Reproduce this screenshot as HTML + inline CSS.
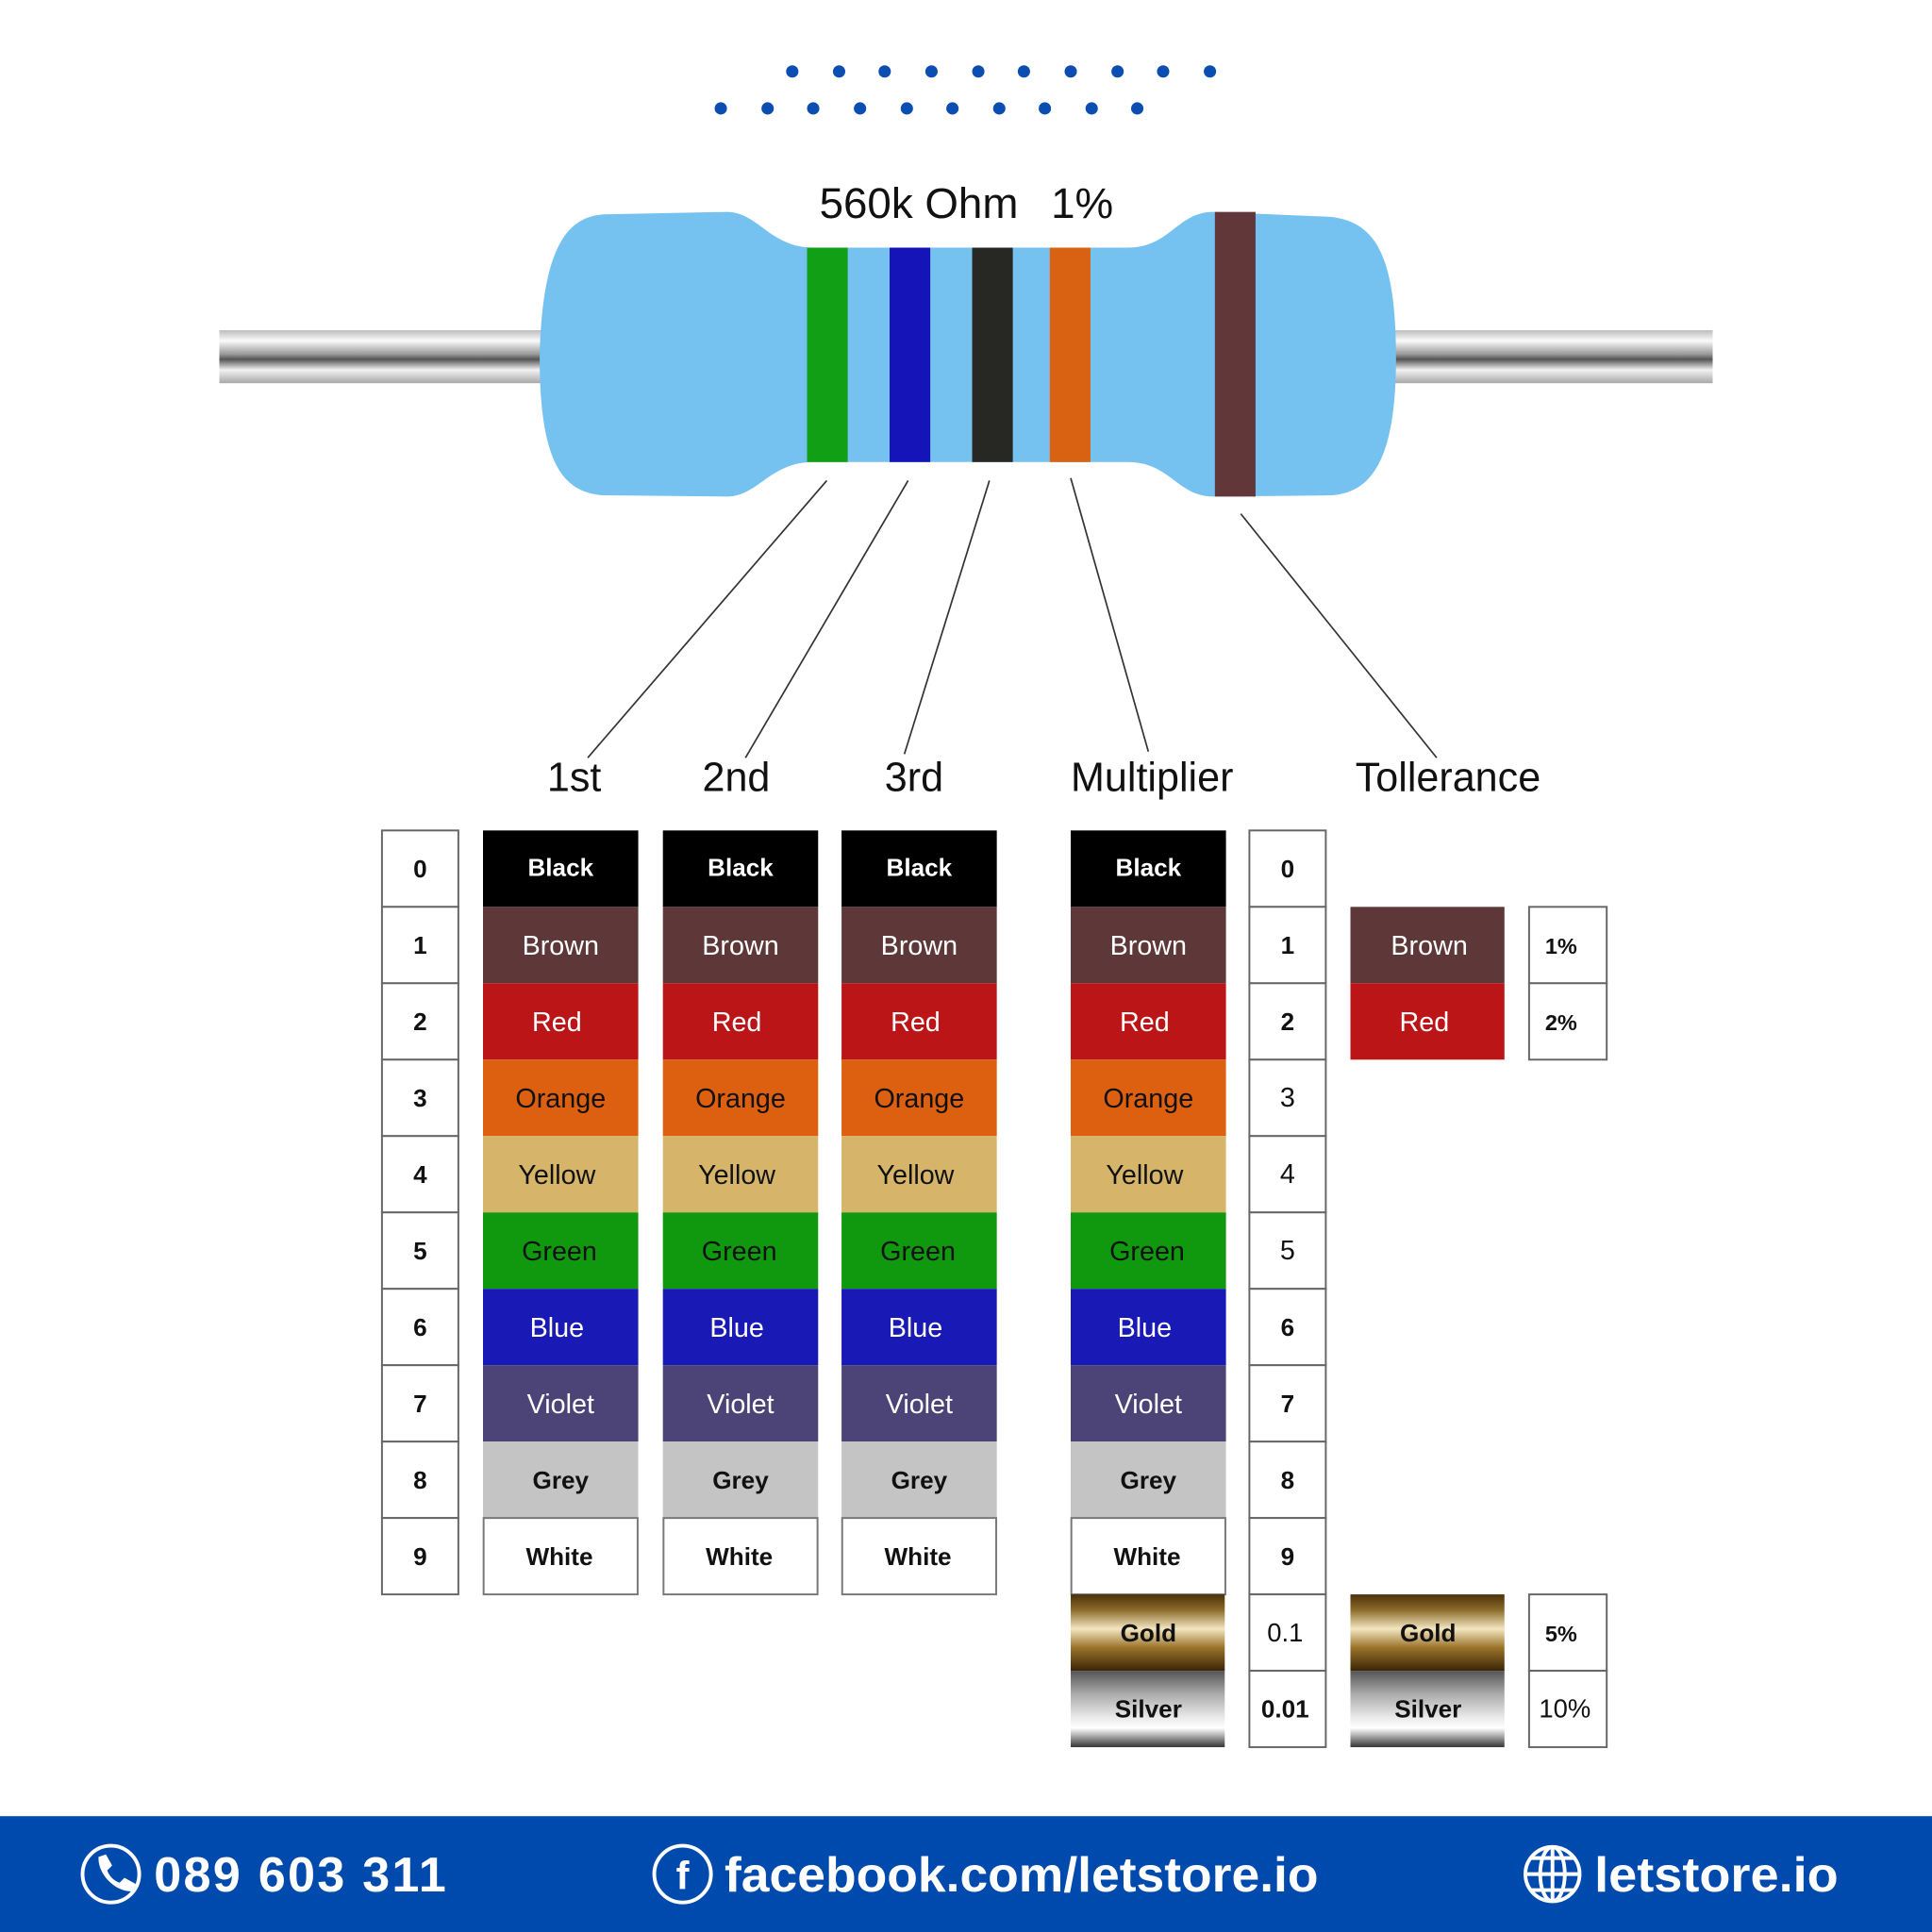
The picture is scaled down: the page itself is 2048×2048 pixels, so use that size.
<!DOCTYPE html>
<html><head><meta charset="utf-8"><style>
html,body{margin:0;padding:0;background:#fff;width:2048px;height:2048px;overflow:hidden}
svg{display:block}
.t{font-family:"Liberation Sans",Arial,sans-serif}
</style></head><body>
<svg width="2048" height="2048" viewBox="0 0 1568 1568" xmlns="http://www.w3.org/2000/svg" class="t">
<defs>
<linearGradient id="lead" x1="0" y1="0" x2="0" y2="1">
<stop offset="0" stop-color="#bdbdbd"/><stop offset="0.2" stop-color="#fafafa"/><stop offset="0.45" stop-color="#9a9a9a"/><stop offset="0.55" stop-color="#555"/><stop offset="0.75" stop-color="#f2f2f2"/><stop offset="1" stop-color="#a8a8a8"/>
</linearGradient>
<linearGradient id="gold" x1="0" y1="0" x2="0" y2="1">
<stop offset="0" stop-color="#4a3208"/><stop offset="0.2" stop-color="#8a6a2a"/><stop offset="0.45" stop-color="#f3e6c0"/><stop offset="0.7" stop-color="#9a7228"/><stop offset="1" stop-color="#3a2606"/>
</linearGradient>
<linearGradient id="silver" x1="0" y1="0" x2="0" y2="1">
<stop offset="0" stop-color="#555"/><stop offset="0.3" stop-color="#aaa"/><stop offset="0.6" stop-color="#e8e8e8"/><stop offset="0.75" stop-color="#fff"/><stop offset="1" stop-color="#333"/>
</linearGradient>
</defs>
<g fill="#0b4db0">
<circle cx="643" cy="58" r="5"/><circle cx="681" cy="58" r="5"/><circle cx="718" cy="58" r="5"/><circle cx="756" cy="58" r="5"/><circle cx="794" cy="58" r="5"/><circle cx="831" cy="58" r="5"/><circle cx="869" cy="58" r="5"/><circle cx="907" cy="58" r="5"/><circle cx="944" cy="58" r="5"/><circle cx="982" cy="58" r="5"/>
<circle cx="585" cy="88" r="5"/><circle cx="623" cy="88" r="5"/><circle cx="660" cy="88" r="5"/><circle cx="698" cy="88" r="5"/><circle cx="736" cy="88" r="5"/><circle cx="773" cy="88" r="5"/><circle cx="811" cy="88" r="5"/><circle cx="848" cy="88" r="5"/><circle cx="886" cy="88" r="5"/><circle cx="923" cy="88" r="5"/>
</g>
<rect x="178" y="268" width="265" height="43" fill="url(#lead)"/>
<rect x="1128" y="268" width="262" height="43" fill="url(#lead)"/>
<path d="M490,174 C458,176 440,205 438,290 C438,378 458,400 490,402 L590,403 C615,403 625,375 660,375 L915,375 C950,375 955,403 985,403 L1080,402 C1115,400 1133,370 1133,290 C1133,205 1115,180 1080,176 L985,172 C955,172 950,201 915,201 L660,201 C625,201 615,172 590,172 Z" fill="#75c1ef"/>
<rect x="655" y="201" width="33" height="174" fill="#109f15"/>
<rect x="722" y="201" width="33" height="174" fill="#1414b8"/>
<rect x="789" y="201" width="33" height="174" fill="#272824"/>
<rect x="852" y="201" width="33" height="174" fill="#d86211"/>
<rect x="986" y="172" width="33" height="231" fill="#613739"/>
<text x="665" y="177" font-size="35" fill="#111">560k Ohm</text>
<text x="853" y="177" font-size="35" fill="#111">1%</text>
<g stroke="#333" stroke-width="1.3">
<line x1="671" y1="390" x2="477" y2="615"/>
<line x1="737" y1="390" x2="605" y2="615"/>
<line x1="803" y1="390" x2="734" y2="612"/>
<line x1="869" y1="388" x2="932" y2="610"/>
<line x1="1007" y1="417" x2="1166" y2="615"/>
</g>
<g font-size="33" fill="#111">
<text x="444" y="642">1st</text><text x="570" y="642">2nd</text><text x="718" y="642">3rd</text><text x="869" y="642">Multiplier</text><text x="1100" y="642">Tollerance</text>
</g>
<g fill="#fff" stroke="#666" stroke-width="1.5">
<rect x="310" y="674" width="62" height="62"/><rect x="310" y="736" width="62" height="62"/><rect x="310" y="798" width="62" height="62"/><rect x="310" y="860" width="62" height="62"/><rect x="310" y="922" width="62" height="62"/><rect x="310" y="984" width="62" height="62"/><rect x="310" y="1046" width="62" height="62"/><rect x="310" y="1108" width="62" height="62"/><rect x="310" y="1170" width="62" height="62"/><rect x="310" y="1232" width="62" height="62"/>
<rect x="1014" y="674" width="62" height="62"/><rect x="1014" y="736" width="62" height="62"/><rect x="1014" y="798" width="62" height="62"/><rect x="1014" y="860" width="62" height="62"/><rect x="1014" y="922" width="62" height="62"/><rect x="1014" y="984" width="62" height="62"/><rect x="1014" y="1046" width="62" height="62"/><rect x="1014" y="1108" width="62" height="62"/><rect x="1014" y="1170" width="62" height="62"/><rect x="1014" y="1232" width="62" height="62"/><rect x="1014" y="1294" width="62" height="62"/><rect x="1014" y="1356" width="62" height="62"/>
<rect x="1241" y="736" width="63" height="62"/><rect x="1241" y="798" width="63" height="62"/><rect x="1241" y="1294" width="63" height="62"/><rect x="1241" y="1356" width="63" height="62"/>
</g>
<g font-size="20" font-weight="bold" text-anchor="middle" fill="#111">
<text x="341" y="712">0</text><text x="341" y="774">1</text><text x="341" y="836">2</text><text x="341" y="898">3</text><text x="341" y="960">4</text><text x="341" y="1022">5</text><text x="341" y="1084">6</text><text x="341" y="1146">7</text><text x="341" y="1208">8</text><text x="341" y="1270">9</text>
<text x="1045" y="712">0</text><text x="1045" y="774">1</text><text x="1045" y="836">2</text><text x="1045" y="898" font-weight="normal" font-size="22">3</text><text x="1045" y="960" font-weight="normal" font-size="22">4</text><text x="1045" y="1022" font-weight="normal" font-size="22">5</text><text x="1045" y="1084">6</text><text x="1045" y="1146">7</text><text x="1045" y="1208">8</text><text x="1045" y="1270">9</text>
<text x="1043" y="1332" font-weight="normal" font-size="21">0.1</text><text x="1043" y="1394">0.01</text>
<text x="1267" y="774" font-size="18">1%</text><text x="1267" y="836" font-size="18">2%</text><text x="1267" y="1332" font-size="18">5%</text><text x="1270" y="1394" font-weight="normal" font-size="21">10%</text>
</g>
<g id="col">
<rect x="0" y="674" width="126" height="62" fill="#000"/>
<rect x="0" y="736" width="126" height="62" fill="#5e3838"/>
<rect x="0" y="798" width="126" height="62" fill="#bb1518"/>
<rect x="0" y="860" width="126" height="62" fill="#dc6010"/>
<rect x="0" y="922" width="126" height="62" fill="#d6b56b"/>
<rect x="0" y="984" width="126" height="62" fill="#10990f"/>
<rect x="0" y="1046" width="126" height="62" fill="#1919b5"/>
<rect x="0" y="1108" width="126" height="62" fill="#4c4476"/>
<rect x="0" y="1170" width="126" height="62" fill="#c4c4c4"/>
<rect x="0.5" y="1232" width="125" height="62" fill="#fff" stroke="#777" stroke-width="1.5"/>
<g font-size="22" text-anchor="middle">
<text x="63" y="711" fill="#fff" font-weight="bold" font-size="20">Black</text>
<text x="63" y="775" fill="#fff">Brown</text>
<text x="60" y="837" fill="#fff">Red</text>
<text x="63" y="899" fill="#111">Orange</text>
<text x="60" y="961" fill="#111">Yellow</text>
<text x="62" y="1023" fill="#111">Green</text>
<text x="60" y="1085" fill="#fff">Blue</text>
<text x="63" y="1147" fill="#fff">Violet</text>
<text x="63" y="1208" fill="#111" font-weight="bold" font-size="20">Grey</text>
<text x="62" y="1270" fill="#111" font-weight="bold" font-size="20">White</text>
</g>
</g>
<use href="#col" x="392"/>
<use href="#col" x="538"/>
<use href="#col" x="683"/>
<use href="#col" x="869"/>
<rect x="0" y="670" width="130" height="630" fill="#fff"/>
<rect x="869" y="1294" width="125" height="62" fill="url(#gold)"/>
<rect x="869" y="1356" width="125" height="62" fill="url(#silver)"/>
<rect x="1096" y="1294" width="125" height="62" fill="url(#gold)"/>
<rect x="1096" y="1356" width="125" height="62" fill="url(#silver)"/>
<rect x="1096" y="736" width="125" height="62" fill="#5e3838"/>
<rect x="1096" y="798" width="125" height="62" fill="#bb1518"/>
<g font-size="20" font-weight="bold" text-anchor="middle" fill="#111">
<text x="932" y="1332">Gold</text><text x="932" y="1394">Silver</text>
<text x="1159" y="1332">Gold</text><text x="1159" y="1394">Silver</text>
</g>
<g font-size="22" text-anchor="middle" fill="#fff">
<text x="1160" y="775">Brown</text><text x="1156" y="837">Red</text>
</g>
<rect x="0" y="1474" width="1568" height="94" fill="#004aad"/>
<g fill="none" stroke="#fff" stroke-width="3">
<circle cx="90" cy="1521" r="23"/>
<circle cx="554" cy="1521" r="23"/>
<circle cx="1260" cy="1521" r="22"/>
<ellipse cx="1260" cy="1521" rx="10" ry="22"/>
<line x1="1260" y1="1499" x2="1260" y2="1543"/>
<line x1="1238" y1="1521" x2="1282" y2="1521"/>
<line x1="1242" y1="1508" x2="1278" y2="1508"/>
<line x1="1242" y1="1534" x2="1278" y2="1534"/>
</g>
<path d="M80,1507 l6,-2 l5,9 l-4,4 c2,5 5,8 10,10 l4,-4 l9,5 l-2,6 c-14,1 -29,-14 -28,-28z" fill="#fff"/>
<text x="554" y="1533" font-size="32" font-weight="bold" fill="#fff" text-anchor="middle">f</text>
<g font-size="40" font-weight="bold" fill="#fff">
<text x="125" y="1535" textLength="237" lengthAdjust="spacing">089 603 311</text>
<text x="588" y="1535" textLength="482" lengthAdjust="spacingAndGlyphs">facebook.com/letstore.io</text>
<text x="1294" y="1535" textLength="198" lengthAdjust="spacingAndGlyphs">letstore.io</text>
</g>
</svg>
</body></html>
